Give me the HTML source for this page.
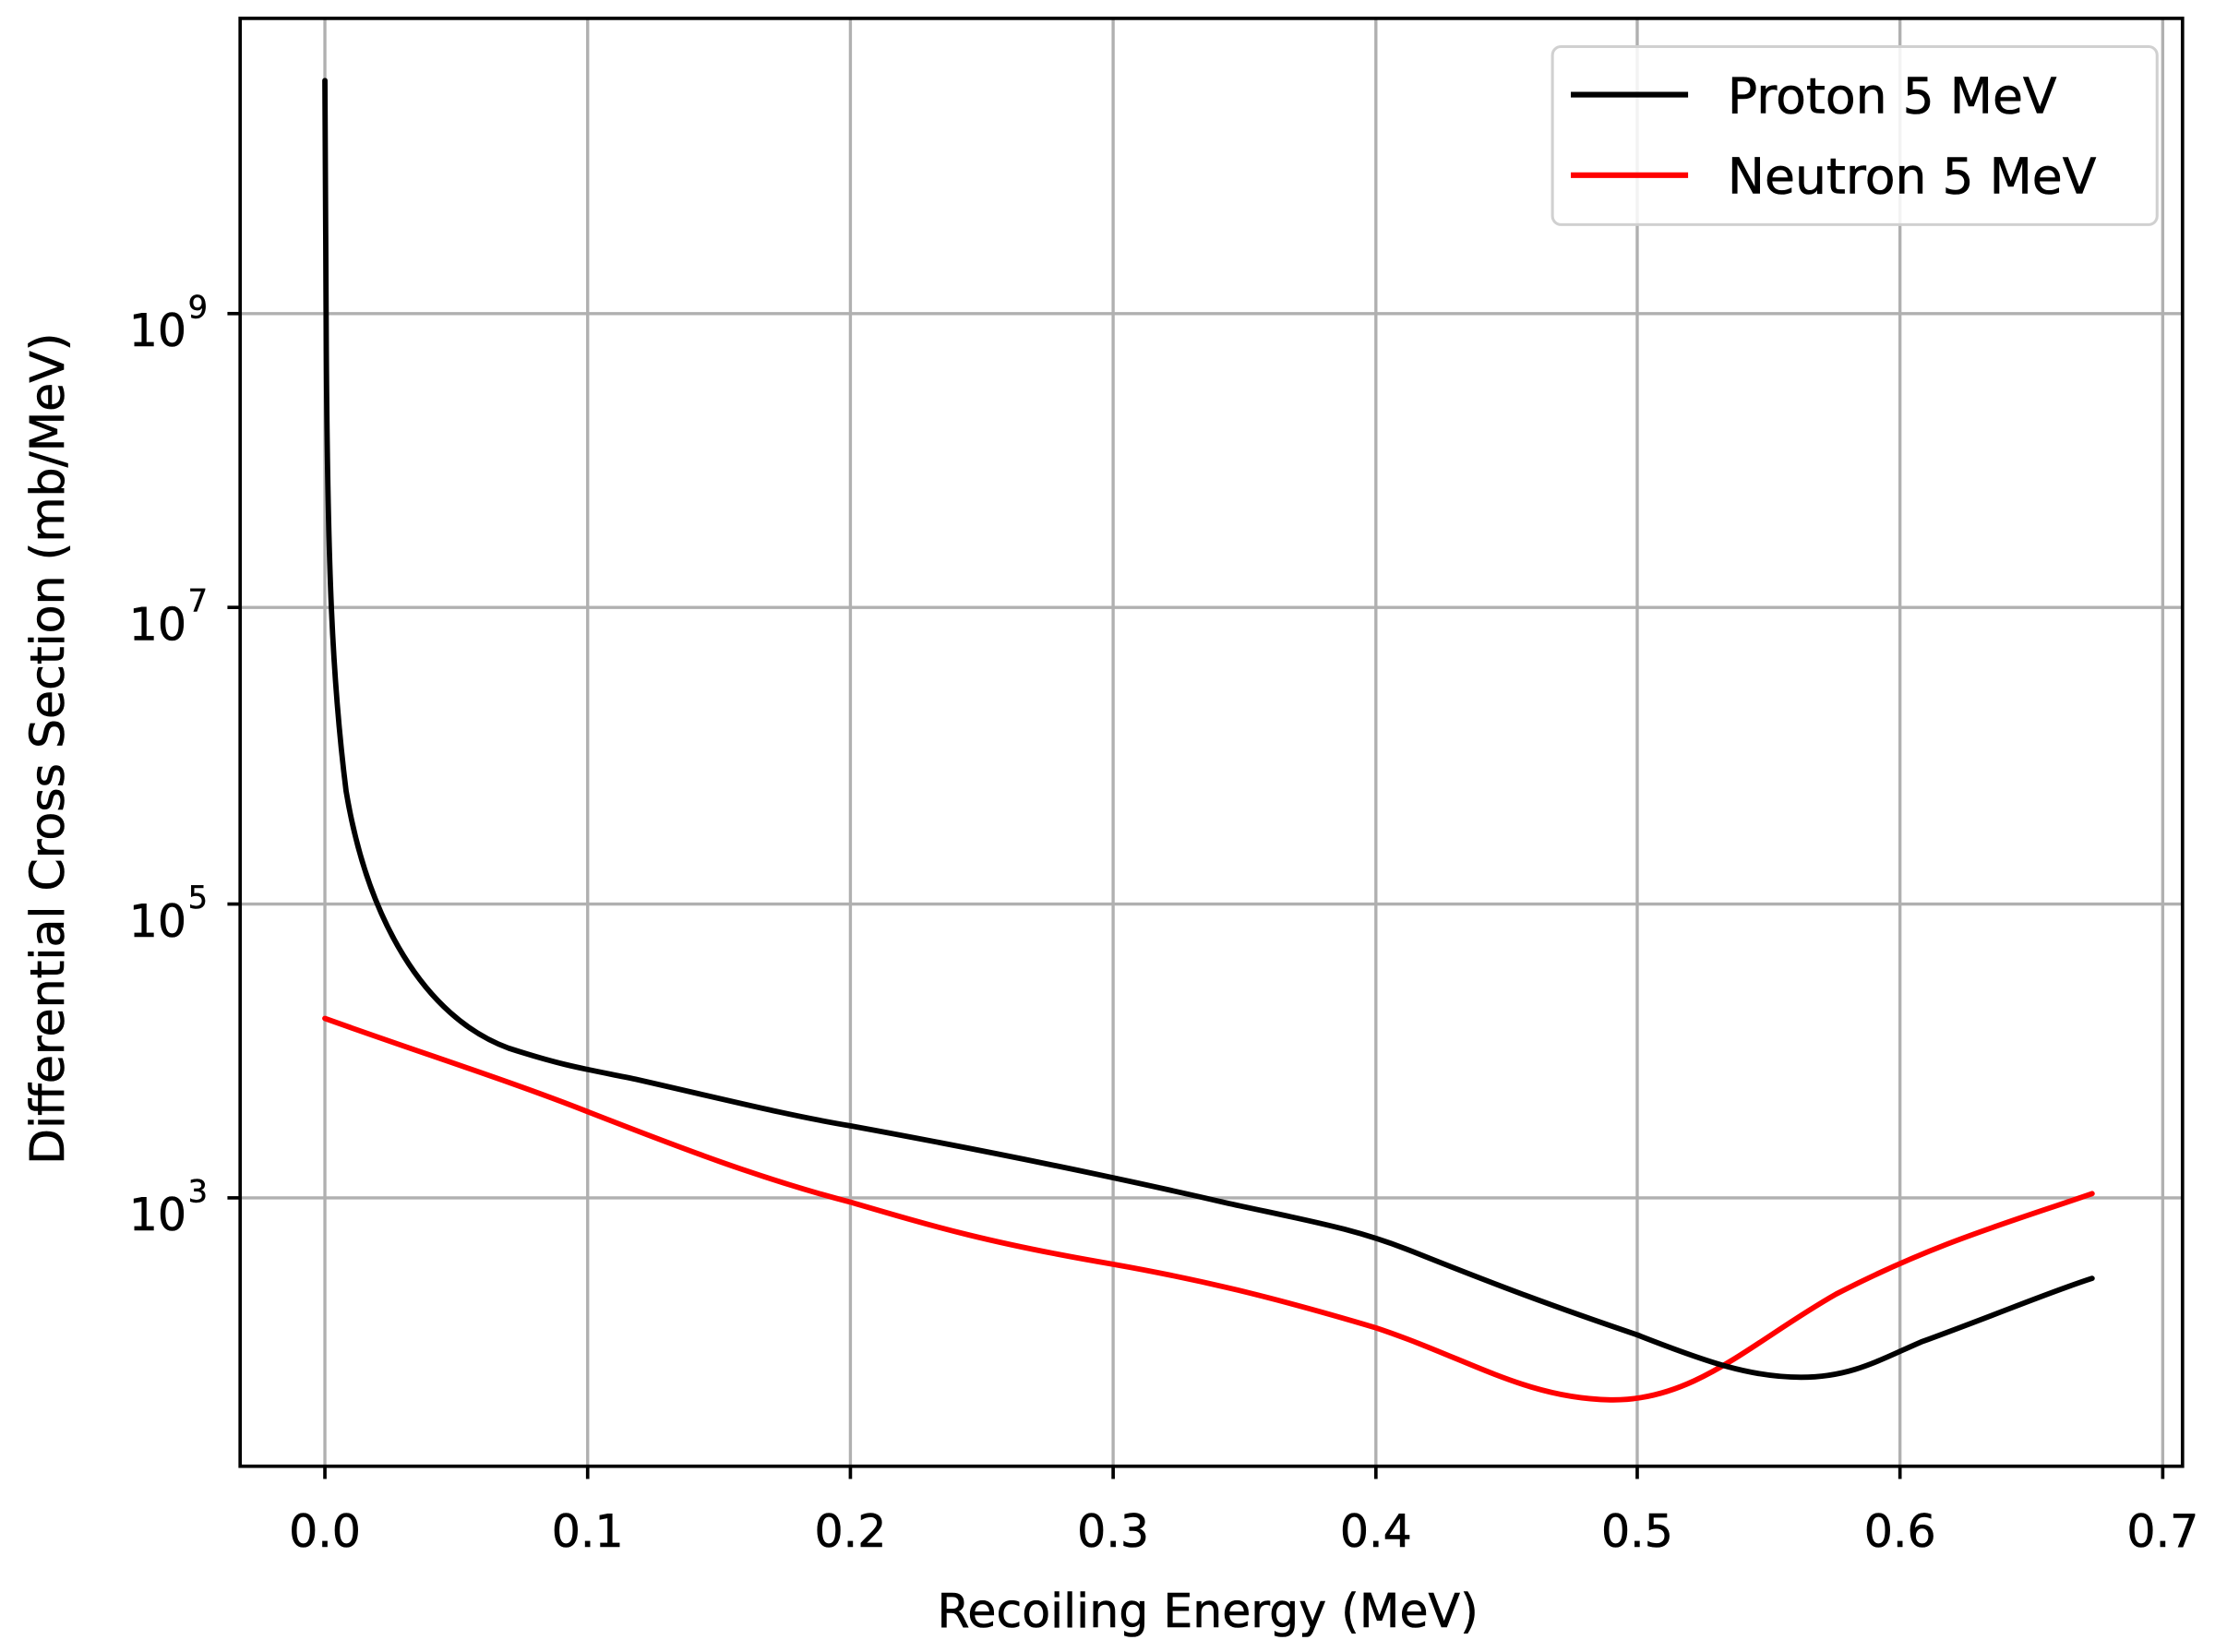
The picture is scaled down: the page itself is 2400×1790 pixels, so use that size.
<!DOCTYPE html>
<html><head><style>html,body{margin:0;padding:0;background:#fff}svg{display:block}</style></head>
<body>
<svg width="2400" height="1790" viewBox="0 0 1568 1169.5" preserveAspectRatio="none" xmlns="http://www.w3.org/2000/svg" font-family="DejaVu Sans, Liberation Sans, sans-serif">
<rect width="1568" height="1170" fill="#fff"/>
<g stroke="#b0b0b0" stroke-width="2.2">
<line x1="230" y1="13" x2="230" y2="1038"/><line x1="416" y1="13" x2="416" y2="1038"/><line x1="602" y1="13" x2="602" y2="1038"/><line x1="788" y1="13" x2="788" y2="1038"/><line x1="974" y1="13" x2="974" y2="1038"/><line x1="1159" y1="13" x2="1159" y2="1038"/><line x1="1345" y1="13" x2="1345" y2="1038"/><line x1="1531" y1="13" x2="1531" y2="1038"/>
<line x1="170" y1="222" x2="1545" y2="222"/><line x1="170" y1="430" x2="1545" y2="430"/><line x1="170" y1="640" x2="1545" y2="640"/><line x1="170" y1="848" x2="1545" y2="848"/>
</g>
<g fill="none" stroke-width="3.8" stroke-linejoin="round" stroke-linecap="round">
<path stroke="#f00" d="M230,721 C300,746 360,765 416,787 C480,812 540,835 602,851 C660,868 700,880 788,895 C850,906 900,918 974,940 C1040,962 1080,990 1140,991 C1200,992 1240,950 1300,916 C1370,880 1420,866 1481,845"/>
<path stroke="#000" d="M230,57 L231,250 C232,400 235,480 245,560 C260,650 300,720 360,742 C400,755 416,757 450,764 C520,780 560,790 602,797 C700,815 788,833 870,852 C930,865 960,870 1000,886 C1060,910 1100,925 1159,945 C1210,965 1240,975 1275,975 C1310,975 1330,963 1360,950 C1420,928 1450,915 1481,905"/>
</g>
<rect x="170" y="13" width="1375" height="1025" fill="none" stroke="#000" stroke-width="2.4"/>
<g stroke="#000" stroke-width="2.4">
<line x1="230" y1="1038" x2="230" y2="1047"/><line x1="416" y1="1038" x2="416" y2="1047"/><line x1="602" y1="1038" x2="602" y2="1047"/><line x1="788" y1="1038" x2="788" y2="1047"/><line x1="974" y1="1038" x2="974" y2="1047"/><line x1="1159" y1="1038" x2="1159" y2="1047"/><line x1="1345" y1="1038" x2="1345" y2="1047"/><line x1="1531" y1="1038" x2="1531" y2="1047"/>
<line x1="161" y1="222" x2="170" y2="222"/><line x1="161" y1="430" x2="170" y2="430"/><line x1="161" y1="640" x2="170" y2="640"/><line x1="161" y1="848" x2="170" y2="848"/>
</g>
<g font-size="32" text-anchor="middle" fill="#000" stroke="#000" stroke-width="0.4">
<text x="230" y="1095">0.0</text><text x="416" y="1095">0.1</text><text x="602" y="1095">0.2</text><text x="788" y="1095">0.3</text><text x="974" y="1095">0.4</text><text x="1159" y="1095">0.5</text><text x="1345" y="1095">0.6</text><text x="1531" y="1095">0.7</text>
</g>
<g font-size="32" text-anchor="end" fill="#000" stroke="#000" stroke-width="0.4">
<text x="132" y="245">10</text><text x="132" y="453">10</text><text x="132" y="663">10</text><text x="132" y="871">10</text>
</g>
<g font-size="22" fill="#000" stroke="#000" stroke-width="0.3">
<text x="133" y="225">9</text><text x="133" y="433">7</text><text x="133" y="643">5</text><text x="133" y="851">3</text>
</g>
<text x="855" y="1152" font-size="33" text-anchor="middle" stroke="#000" stroke-width="0.4">Recoiling Energy (MeV)</text>
<text transform="translate(45,530) rotate(-90)" font-size="33" text-anchor="middle" stroke="#000" stroke-width="0.4">Differential Cross Section (mb/MeV)</text>
<rect x="1099" y="33" width="428" height="126" rx="6" fill="#fff" fill-opacity="0.85" stroke="#d0d0d0" stroke-width="2"/>
<line x1="1112" y1="67" x2="1195" y2="67" stroke="#000" stroke-width="4"/>
<line x1="1112" y1="124" x2="1195" y2="124" stroke="#f00" stroke-width="4"/>
<text x="1223" y="80" font-size="35" stroke="#000" stroke-width="0.4">Proton 5 MeV</text>
<text x="1223" y="137" font-size="35" stroke="#000" stroke-width="0.4">Neutron 5 MeV</text>
</svg>
</body></html>
